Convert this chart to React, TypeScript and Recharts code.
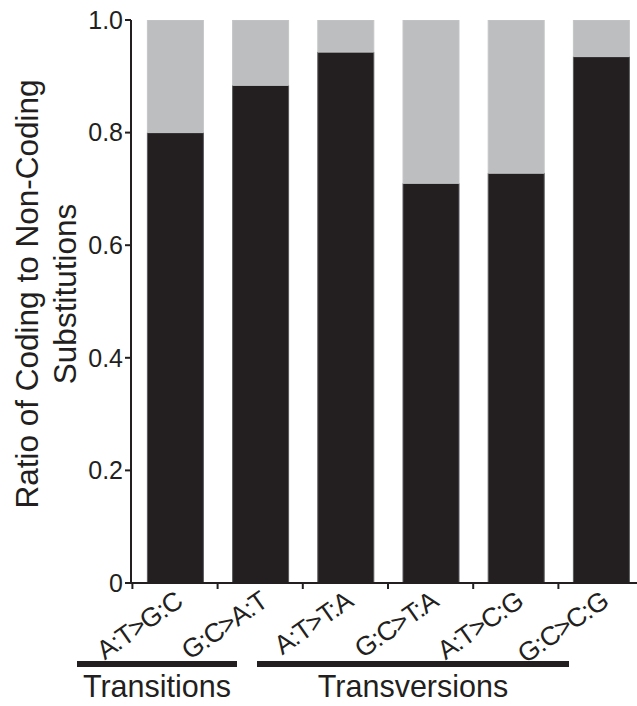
import React from 'react';
import { BarChart, Bar, XAxis, YAxis } from 'recharts';

const categories = ['A:T>G:C', 'G:C>A:T', 'A:T>T:A', 'G:C>T:A', 'A:T>C:G', 'G:C>C:G'];
const coding = [0.8, 0.884, 0.943, 0.71, 0.728, 0.935];
const nonCoding = [0.2, 0.116, 0.057, 0.29, 0.272, 0.065];
const yTicks = [0, 0.2, 0.4, 0.6, 0.8, 1.0];
const yTickLabels = ['0', '0.2', '0.4', '0.6', '0.8', '1.0'];
const groupNames = ['Transitions', 'Transversions'];
const yLabelLines = ['Ratio of Coding to Non-Coding', 'Substitutions'];

const data = categories.map((c, i) => ({ name: c, coding: coding[i], nonCoding: nonCoding[i] }));

const FONT = '"Liberation Sans", Arial, Helvetica, sans-serif';
const INK = '#231f20';

const XTick = (props: any) => {
  const { x, y, payload } = props;
  const off = payload && typeof payload.offset === 'number' ? payload.offset : 42.6;
  const ax = x + 9;
  const ay = y + 16;
  return (
    <g>
      <line x1={x - off} x2={x - off} y1={y - 6} y2={y} stroke={INK} strokeWidth={2} />
      <text
        x={ax}
        y={ay}
        textAnchor="end"
        transform={`rotate(-35, ${ax}, ${ay})`}
        fontSize={26.5}
        letterSpacing={-1}
        fill={INK}
        fontFamily={FONT}
      >
        {payload.value}
      </text>
    </g>
  );
};

export default function App() {
  return (
    <div style={{ position: 'absolute', left: 0, top: 0, width: 637, height: 706, background: '#fff' }}>
      <BarChart
        width={637}
        height={706}
        data={data}
        margin={{ top: 20, right: 0, bottom: 0, left: 0 }}
      >
        <XAxis
          dataKey="name"
          height={123}
          padding={{ left: 1.4, right: -6.6 }}
          axisLine={{ stroke: INK, strokeWidth: 2 }}
          tickLine={false}
          tickSize={6}
          tickMargin={0}
          interval={0}
          tick={<XTick />}
        />
        <YAxis
          width={131}
          domain={[0, 1]}
          ticks={yTicks}
          allowDataOverflow
          tickFormatter={(v: number) => yTickLabels[yTicks.indexOf(v)] ?? String(v)}
          axisLine={{ stroke: INK, strokeWidth: 2 }}
          tickLine={{ stroke: INK, strokeWidth: 2 }}
          tickSize={6}
          tickMargin={2}
          tick={{ fontSize: 25, fill: INK, fontFamily: FONT }}
        />
        <Bar dataKey="coding" stackId="a" fill={INK} stroke="#58595b" strokeWidth={1} barSize={56} isAnimationActive={false} />
        <Bar dataKey="nonCoding" stackId="a" fill="#bcbec0" stroke="#c4c5c7" strokeWidth={1} barSize={56} isAnimationActive={false} />
      </BarChart>
      <svg
        width={637}
        height={706}
        style={{ position: 'absolute', left: 0, top: 0, pointerEvents: 'none' }}
      >
        <text x={38} y={294} transform="rotate(-90, 38, 294)" textAnchor="middle" fontSize={31.5} fill={INK} fontFamily={FONT}>
          {yLabelLines[0]}
        </text>
        <text x={76} y={294} transform="rotate(-90, 76, 294)" textAnchor="middle" fontSize={31.5} fill={INK} fontFamily={FONT}>
          {yLabelLines[1]}
        </text>
        <rect x={77} y={661} width={160} height={6} fill={INK} />
        <rect x={257} y={661} width={312} height={6} fill={INK} />
        <text x={157} y={697} textAnchor="middle" fontSize={30.5} fill={INK} fontFamily={FONT}>
          {groupNames[0]}
        </text>
        <text x={413} y={697} textAnchor="middle" fontSize={30.5} fill={INK} fontFamily={FONT}>
          {groupNames[1]}
        </text>
      </svg>
    </div>
  );
}
